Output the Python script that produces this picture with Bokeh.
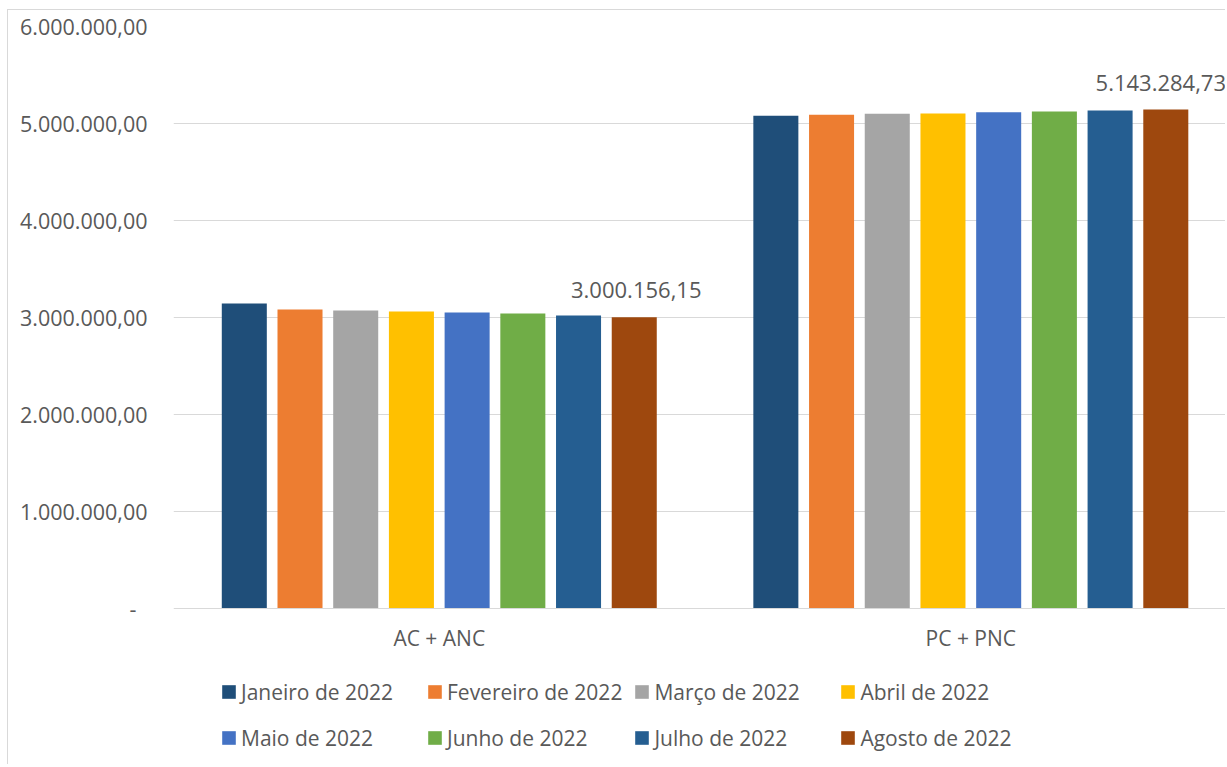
from bokeh.plotting import figure
from bokeh.models import (ColumnDataSource, Range1d, FixedTicker, Legend, LegendItem, Label, LabelSet)
from bokeh.core.properties import value
from bokeh.embed import file_html
from bokeh.resources import INLINE

# ---------------- data ----------------
groups = ["AC + ANC", "PC + PNC"]
months = ["Janeiro de 2022", "Fevereiro de 2022", "Março de 2022", "Abril de 2022",
          "Maio de 2022", "Junho de 2022", "Julho de 2022", "Agosto de 2022"]
ac_anc = [3142000, 3080000, 3070000, 3060000, 3050000, 3040000, 3019000, 3000156.15]
pc_pnc = [5079000, 5090000, 5100000, 5103000, 5114000, 5124000, 5134000, 5143284.73]
y_ticks = [0, 1000000, 2000000, 3000000, 4000000, 5000000, 6000000]
y_tick_labels = ["-\u00a0\u00a0", "1.000.000,00", "2.000.000,00", "3.000.000,00",
                 "4.000.000,00", "5.000.000,00", "6.000.000,00"]

# ---------------- style ----------------
colors = ["#1F4E79", "#ED7D31", "#A5A5A5", "#FFC000", "#4472C4", "#70AD47", "#255E91", "#9E480E"]
FONT = "Open Sans"
TXT = "#595959"
GRID = "#D9D9D9"
bar_w = 0.0847
step = 0.1048
group_pos = [0.5 + i for i in range(len(groups))]
label_dx = [2, -5]


def br_fmt(v):
    s = f"{v:,.2f}"
    return s.replace(",", "X").replace(".", ",").replace("X", ".")


# the frame reaches down to the bottom so that the legend area sits inside it
p = figure(width=1218, height=755, output_backend="svg", toolbar_location=None,
           x_range=Range1d(0, 1.981), y_range=Range1d(-1625000, 6000000),
           min_border_left=165, min_border_right=0, min_border_top=16, min_border_bottom=0)
p.styles = {"border-left": "1px solid #D9D9D9", "border-top": "1px solid #D9D9D9",
            "margin-left": "7px", "margin-top": "9px"}
p.outline_line_color = None
p.background_fill_color = "white"
p.border_fill_color = "white"

p.xgrid.grid_line_color = None
p.ygrid.grid_line_color = GRID
p.ygrid.grid_line_width = 1
p.ygrid.ticker = FixedTicker(ticks=y_ticks)

# y axis
p.yaxis.ticker = FixedTicker(ticks=y_ticks)
p.yaxis.major_label_overrides = {t: l for t, l in zip(y_ticks, y_tick_labels)}
p.yaxis.axis_line_color = None
p.yaxis.major_tick_line_color = None
p.yaxis.minor_tick_line_color = None
p.yaxis.major_tick_out = 0
p.yaxis.major_label_standoff = 26
p.yaxis.major_label_text_font = FONT
p.yaxis.major_label_text_font_size = "21.5px"
p.yaxis.major_label_text_color = TXT

p.xaxis.visible = False

# category labels under the zero line
cat_src = ColumnDataSource(dict(x=group_pos, y=[0] * len(groups), text=groups))
p.add_layout(LabelSet(x="x", y="y", text="text", source=cat_src, y_offset=-29.5,
                      text_align="center", text_baseline="middle",
                      text_font=value(FONT), text_font_size=value("21px"),
                      text_color=value(TXT)))

items = []
n = len(months)
for i, m in enumerate(months):
    off = (i - (n - 1) / 2) * step
    src = ColumnDataSource(dict(x=[g + off for g in group_pos], top=[ac_anc[i], pc_pnc[i]]))
    r = p.vbar(x="x", top="top", width=bar_w, bottom=0, source=src,
               fill_color=colors[i], line_color=None)
    items.append(LegendItem(label=m, renderers=[r]))

# data labels on the last month
last = n - 1
off = (last - (n - 1) / 2) * step
for gi, vals in enumerate([ac_anc, pc_pnc]):
    p.add_layout(Label(x=group_pos[gi] + off, y=vals[last], text=br_fmt(vals[last]),
                       x_offset=label_dx[gi], y_offset=27,
                       text_align="center", text_baseline="middle",
                       text_font=FONT, text_font_size="22px", text_color=TXT))

legend = Legend(items=items, orientation="horizontal", nrows=2,
                location=(47, 10),
                glyph_width=17, glyph_height=17, label_standoff=4,
                label_width=174, label_height=35, spacing=11, padding=0, margin=0,
                border_line_color=None, background_fill_alpha=0,
                label_text_font=FONT, label_text_font_size="21px", label_text_color=TXT)
p.add_layout(legend, "center")

open("out.html", "w").write(file_html(p, INLINE))
